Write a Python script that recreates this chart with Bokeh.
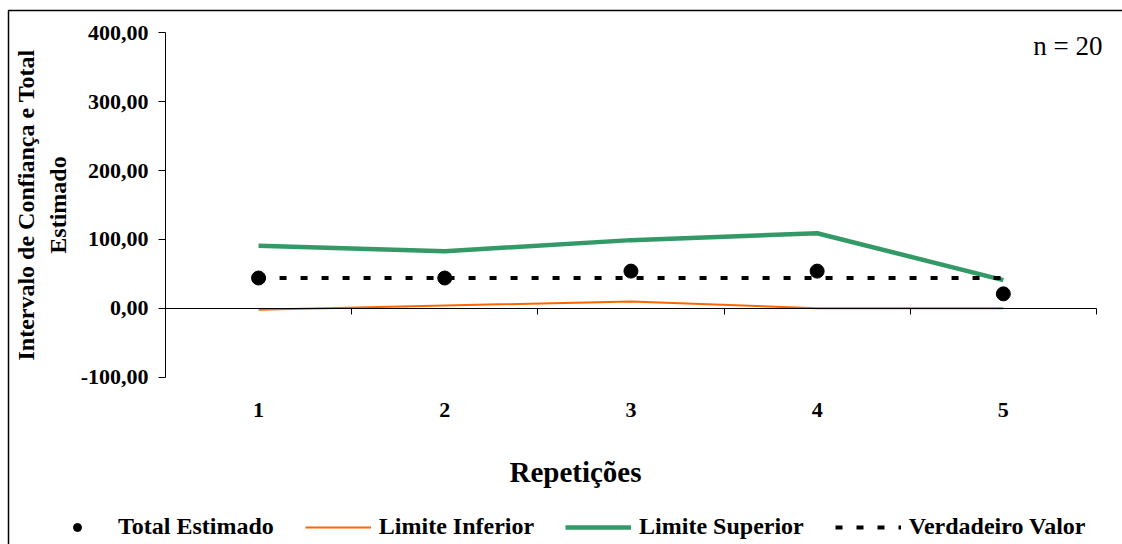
from bokeh.plotting import figure
from bokeh.models import (Range1d, FixedTicker, Label, Legend, LegendItem, LinearAxis,
                          BoxAnnotation)
from bokeh.embed import file_html
from bokeh.resources import INLINE

# Repetitions and the estimates / interval bounds for each one
repeticoes = [1, 2, 3, 4, 5]
total_estimado = [44, 44, 54, 54, 21]
limite_inferior = [-2, 4, 10, 0, 0]
limite_superior = [91, 83, 99, 109, 41]
verdadeiro_valor = [44, 44, 44, 44, 44]
y_ticks = [-100, 0, 100, 200, 300, 400]

SERIF = "Liberation Serif"
GREEN = "#339966"
ORANGE = "#FF6600"
W, H = 1122, 544

x_lo, x_hi = repeticoes[0] - 0.5, repeticoes[-1] + 0.5
y_lo, y_hi = y_ticks[0], y_ticks[-1]

# the plotting frame fills the whole canvas; the axes sit at fixed positions
# inside it, leaving room around the chart area for titles and the legend
p = figure(width=W, height=H, output_backend="svg", toolbar_location=None,
           x_range=Range1d(-0.386, 5.64), y_range=Range1d(-342.9, 446.9),
           x_axis_type=None, y_axis_type=None, min_border=0)
p.grid.visible = False
p.outline_line_color = None
p.background_fill_color = "white"
p.border_fill_color = "white"

# value axis
yaxis = LinearAxis(ticker=FixedTicker(ticks=y_ticks), bounds=(y_lo, y_hi),
                   fixed_location=x_lo,
                   major_label_overrides={t: f"{t:.2f}".replace(".", ",") for t in y_ticks})
yaxis.axis_line_color = "black"
yaxis.major_tick_line_color = "black"
yaxis.major_tick_out = 7
yaxis.major_tick_in = 0
yaxis.minor_tick_line_color = None
yaxis.major_label_standoff = 10
yaxis.major_label_text_font = SERIF
yaxis.major_label_text_font_style = "bold"
yaxis.major_label_text_font_size = "22px"
yaxis.major_label_text_color = "black"
yaxis.axis_label = "Intervalo de Confiança e Total\nEstimado"
yaxis.axis_label_text_font = SERIF
yaxis.axis_label_text_font_style = "bold"
yaxis.axis_label_text_font_size = "24px"
yaxis.axis_label_text_color = "black"
yaxis.axis_label_standoff = 7
p.add_layout(yaxis, "left")

# baseline at zero, ticked at the category boundaries
bounds = [r + 0.5 for r in repeticoes]
base = LinearAxis(ticker=FixedTicker(ticks=bounds), bounds=(x_lo, x_hi), fixed_location=0)
base.axis_line_color = "black"
base.major_tick_line_color = "black"
base.major_tick_out = 6
base.major_tick_in = 0
base.minor_tick_line_color = None
base.major_label_text_color = None
p.add_layout(base, "below")

# category labels and axis title under the chart area
xaxis = LinearAxis(ticker=FixedTicker(ticks=repeticoes), bounds=(-0.2, 5.6),
                   fixed_location=y_lo)
xaxis.axis_line_color = None
xaxis.major_tick_line_color = None
xaxis.minor_tick_line_color = None
xaxis.major_label_standoff = 20
xaxis.major_label_text_font = SERIF
xaxis.major_label_text_font_style = "bold"
xaxis.major_label_text_font_size = "22px"
xaxis.major_label_text_color = "black"
xaxis.axis_label = "Repetições"
xaxis.axis_label_text_font = SERIF
xaxis.axis_label_text_font_style = "bold"
xaxis.axis_label_text_font_size = "29px"
xaxis.axis_label_text_color = "black"
xaxis.axis_label_standoff = 35
p.add_layout(xaxis, "below")

r_inf = p.line(repeticoes, limite_inferior, line_color=ORANGE, line_width=2)
r_sup = p.line(repeticoes, limite_superior, line_color=GREEN, line_width=4.5)
r_ver = p.line(repeticoes, verdadeiro_valor, line_color="black", line_width=4,
               line_dash="7 14")
r_tot = p.scatter(repeticoes, total_estimado, size=14, color="black")

legend = Legend(items=[
    LegendItem(label="Total Estimado", renderers=[r_tot]),
    LegendItem(label="Limite Inferior", renderers=[r_inf]),
    LegendItem(label="Limite Superior", renderers=[r_sup]),
    LegendItem(label="Verdadeiro Valor", renderers=[r_ver]),
], orientation="horizontal", location=(44, 4))
legend.border_line_color = None
legend.background_fill_alpha = 0
legend.padding = 0
legend.margin = 0
legend.spacing = 31
legend.glyph_width = 66
legend.glyph_height = 20
legend.label_standoff = 8
legend.label_text_font = SERIF
legend.label_text_font_style = "bold"
legend.label_text_font_size = "24px"
legend.label_text_color = "black"
p.add_layout(legend, "center")

p.add_layout(Label(x=1102, y=499, x_units="screen", y_units="screen",
                   text="n = 20", text_align="right", text_baseline="alphabetic",
                   text_font=SERIF, text_font_size="27px", text_color="black"))

# chart-area border; its right and bottom edges lie past the canvas
p.add_layout(BoxAnnotation(left=8, right=W + 50, top=H - 10, bottom=-50,
                           left_units="screen", right_units="screen",
                           top_units="screen", bottom_units="screen",
                           fill_alpha=0, line_color="black", line_alpha=1,
                           line_width=1.5))

open("out.html", "w").write(file_html(p, INLINE))
